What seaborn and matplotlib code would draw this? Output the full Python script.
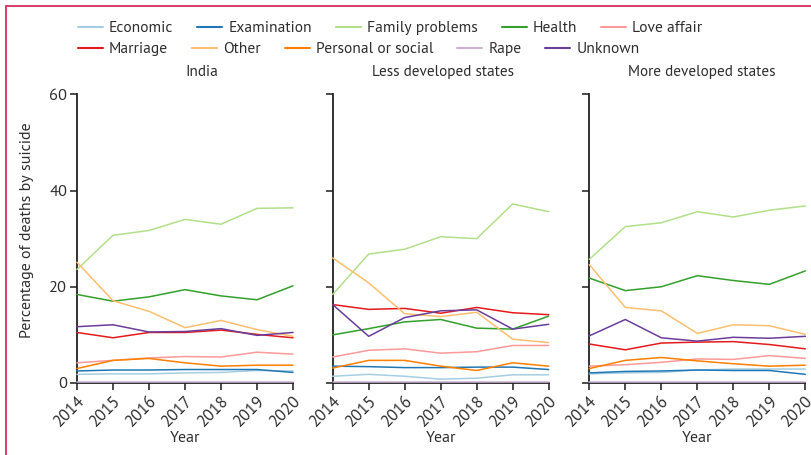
import matplotlib
matplotlib.use("Agg")
import matplotlib.pyplot as plt
from matplotlib import font_manager
from matplotlib.patches import Rectangle
import seaborn as sns
import pandas as pd

years = [2014, 2015, 2016, 2017, 2018, 2019, 2020]
causes = ["Economic", "Examination", "Family problems", "Health", "Love affair",
          "Marriage", "Other", "Personal or social", "Rape", "Unknown"]
panels = ["India", "Less developed states", "More developed states"]

india = {
    "Economic":           [1.8, 1.9, 1.9, 2.1, 2.2, 2.6, 2.5],
    "Examination":        [2.5, 2.7, 2.7, 2.8, 2.8, 2.8, 2.2],
    "Family problems":    [23.6, 30.7, 31.7, 34.0, 33.0, 36.3, 36.4],
    "Health":             [18.4, 17.0, 17.9, 19.4, 18.1, 17.3, 20.2],
    "Love affair":        [4.2, 4.7, 5.2, 5.5, 5.4, 6.4, 6.0],
    "Marriage":           [10.5, 9.4, 10.5, 10.5, 11.0, 10.1, 9.4],
    "Other":              [25.1, 17.1, 14.9, 11.5, 13.0, 11.1, 9.7],
    "Personal or social": [3.0, 4.7, 5.1, 4.2, 3.5, 3.7, 3.7],
    "Rape":               [0.2, 0.2, 0.2, 0.2, 0.2, 0.2, 0.2],
    "Unknown":            [11.7, 12.1, 10.6, 10.7, 11.3, 9.9, 10.5],
}
less_dev = {
    "Economic":           [1.4, 1.8, 1.4, 0.8, 1.0, 1.7, 1.7],
    "Examination":        [3.5, 3.4, 3.2, 3.2, 3.3, 3.3, 2.8],
    "Family problems":    [18.4, 26.8, 27.8, 30.4, 30.0, 37.2, 35.6],
    "Health":             [10.0, 11.3, 12.7, 13.2, 11.4, 11.2, 13.9],
    "Love affair":        [5.4, 6.8, 7.1, 6.2, 6.5, 7.8, 7.8],
    "Marriage":           [16.3, 15.3, 15.5, 14.5, 15.7, 14.6, 14.2],
    "Other":              [26.0, 20.8, 14.4, 13.8, 14.7, 9.1, 8.4],
    "Personal or social": [3.1, 4.7, 4.7, 3.5, 2.6, 4.2, 3.5],
    "Rape":               [0.3, 0.3, 0.3, 0.3, 0.3, 0.3, 0.3],
    "Unknown":            [16.3, 9.7, 13.6, 15.0, 15.2, 11.2, 12.2],
}
more_dev = {
    "Economic":           [1.9, 2.1, 2.2, 2.7, 2.9, 2.9, 2.9],
    "Examination":        [2.1, 2.4, 2.5, 2.7, 2.6, 2.6, 1.8],
    "Family problems":    [25.7, 32.5, 33.3, 35.6, 34.5, 35.9, 36.8],
    "Health":             [21.8, 19.2, 20.0, 22.3, 21.3, 20.5, 23.3],
    "Love affair":        [3.5, 3.8, 4.3, 5.0, 4.9, 5.7, 5.1],
    "Marriage":           [8.1, 6.9, 8.3, 8.5, 8.6, 8.0, 7.1],
    "Other":              [24.6, 15.7, 15.0, 10.3, 12.1, 11.9, 10.1],
    "Personal or social": [3.0, 4.7, 5.3, 4.6, 4.0, 3.5, 3.7],
    "Rape":               [0.2, 0.2, 0.2, 0.2, 0.2, 0.2, 0.2],
    "Unknown":            [9.8, 13.2, 9.4, 8.7, 9.5, 9.3, 9.7],
}
y_ticks = [0, 20, 40, 60]

panel_data = dict(zip(panels, [india, less_dev, more_dev]))
rows = []
for p, d in panel_data.items():
    for c in causes:
        for yr, v in zip(years, d[c]):
            rows.append({"panel": p, "cause": c, "year": yr, "value": v})
df = pd.DataFrame(rows)

sns.set_theme(style="ticks")
avail = {f.name for f in font_manager.fontManager.ttflist}
fam = "DejaVu Sans"
for cand in ["PT Sans", "Open Sans", "Lato"]:
    if cand in avail:
        fam = cand
        break
plt.rcParams["font.family"] = [fam, "DejaVu Sans"]
plt.rcParams["font.weight"] = "normal"
txt = "#2e2e2e"
plt.rcParams.update({"text.color": txt, "axes.labelcolor": txt,
                     "xtick.color": txt, "ytick.color": txt})

palette = dict(zip(causes, sns.color_palette("Paired", 10)))

W, H = 811, 455
fig = plt.figure(figsize=(W / 100, H / 100), dpi=100)
renderer = fig.canvas.get_renderer()


def fit(text, target_px, ref=10.0):
    t = fig.text(0, 0, text, fontsize=ref)
    w = t.get_window_extent(renderer).width
    t.remove()
    return ref * target_px / w


fs_leg = fit("Family problems", 110)
fs_title = fit("Less developed states", 142)
fs_ylab = fit("Percentage of deaths by suicide", 218)
fs_tick = fit("60", 18)
fs_xtick = fit("2014", 36)

lefts = [77, 332.7, 589.3]
title_cx = [202, 443, 702]
ax_w = 216
top_px, bot_px = 94.3, 383
ax_h = bot_px - top_px
axes = []
for i, p in enumerate(panels):
    ax = fig.add_axes([lefts[i] / W, 1 - bot_px / H, ax_w / W, ax_h / H])
    sub = df[df["panel"] == p]
    sns.lineplot(data=sub, x="year", y="value", hue="cause", hue_order=causes,
                 palette=palette, linewidth=1.1, ax=ax, legend=(i == 0))
    for ln in ax.lines:
        ln.set_clip_on(False)
        ln.set_zorder(5)
    ax.set_xlim(2014, 2020)
    ax.set_ylim(0, 60)
    ax.set_xticks(years)
    ax.set_xticklabels([str(y) for y in years], rotation=45, ha="right",
                       rotation_mode="anchor", fontsize=fs_xtick)
    ax.set_yticks(y_ticks)
    if i == 0:
        ax.set_yticklabels([str(t) for t in y_ticks], fontsize=fs_tick)
        ax.set_ylabel("Percentage of deaths by suicide", fontsize=fs_ylab)
        ax.yaxis.set_label_coords(-50 / ax_w, 0.53)
        ax.yaxis.label.set_va("center")
    else:
        ax.set_yticklabels([])
        ax.set_ylabel("")
    ax.set_xlabel("Year", fontsize=fs_ylab)
    ax.xaxis.set_label_coords(0.5, -(438 - bot_px) / ax_h)
    ax.xaxis.label.set_va("center")
    fig.text(title_cx[i] / W, 1 - 72 / H, p, fontsize=fs_title,
             ha="center", va="center")
    ax.tick_params(axis="both", length=5, width=1.2, pad=2)
    for s in ["top", "right"]:
        ax.spines[s].set_visible(False)
    for s in ["left", "bottom"]:
        ax.spines[s].set_color("#222222")
        ax.spines[s].set_linewidth(1.3)
    axes.append(ax)

handles, labels = axes[0].get_legend_handles_labels()
axes[0].get_legend().remove()
for h in handles:
    h.set_linewidth(1.5)
em = fs_leg * 100 / 72
leg_kw = dict(frameon=False, fontsize=fs_leg, handlelength=25 / em,
              handletextpad=6 / em, columnspacing=24 / em,
              borderaxespad=0, borderpad=0, ncol=5)
fig.legend(handles[:5], labels[:5], loc="center left",
           bbox_to_anchor=(78 / W, 1 - 28 / H), **leg_kw)
fig.legend(handles[5:], labels[5:], loc="center left",
           bbox_to_anchor=(78 / W, 1 - 49 / H), **leg_kw)

fig.patches.append(Rectangle((6 / W, -0.1), 1.2, 1 - 6 / H + 0.1,
                             transform=fig.transFigure, fill=False,
                             edgecolor="#d0325e", linewidth=1.3))

fig.savefig("out.png", dpi=100)
